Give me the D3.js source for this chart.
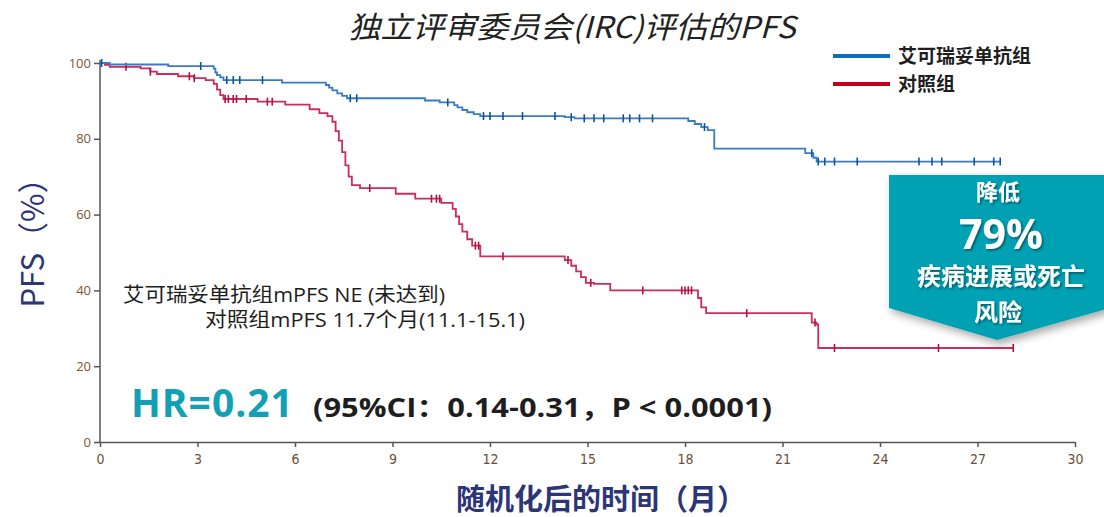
<!DOCTYPE html>
<html><head><meta charset="utf-8">
<script src="https://cdn.jsdelivr.net/npm/d3@7"></script>
<style>
html,body{margin:0;padding:0;background:#fff;}
svg{display:block;}
</style></head>
<body>
<svg id="chart" width="1104" height="517"></svg>
<script>
// ---------- data ----------
const xTicks = [0,3,6,9,12,15,18,21,24,27,30];
const yTicks = [0,20,40,60,80,100];
const seriesNames = ["艾可瑞妥单抗组","对照组"];

const blueTimes = [0,0.3,2.1,3.5,3.55,3.6,3.7,3.8,5.6,6.95,7.05,7.15,7.3,7.45,7.6,10.0,10.45,10.9,11.0,11.15,11.3,11.5,11.7,14.3,14.6,18.1,18.3,18.5,18.7,18.9,21.7,21.95,22.05,27.7];
const blueSurv  = [100,99.6,99.2,98.5,97.5,96.8,96.2,95.5,94.8,94.2,93.5,92.8,92.0,91.3,90.7,90.1,89.6,88.9,88.3,87.6,87.0,86.5,86.0,85.7,85.4,84.7,83.9,83.1,82.3,77.4,76.2,75.0,74.0,74.0];
const blueCensor = [0.05,3.1,3.9,4.1,4.3,5.0,7.7,7.9,10.7,11.8,12.0,12.4,13.0,14.0,14.5,14.9,15.2,15.5,16.1,16.3,16.6,17.0,18.6,21.9,22.1,22.3,22.6,23.3,25.2,25.6,25.9,26.9,27.5,27.7];

const redTimes = [0,0.15,0.3,1.25,1.55,1.75,2.4,2.9,3.25,3.5,3.6,3.7,3.8,4.85,5.7,6.45,6.75,7.0,7.15,7.25,7.35,7.45,7.55,7.65,7.75,8.0,9.1,9.7,10.5,10.85,10.95,11.05,11.15,11.3,11.45,11.7,14.3,14.5,14.65,14.8,14.95,15.2,15.7,18.4,18.5,18.65,21.9,22.05,22.1,28.1];
const redSurv  = [100,99.5,99.0,98.6,97.7,97.1,96.5,96.0,95.5,94.5,93.0,91.5,90.5,89.8,89.0,87.8,86.8,86.0,84.5,82.0,79.5,76.5,73.0,70.0,67.8,67.0,65.5,64.2,63.1,61.5,59.5,57.5,55.5,53.5,51.8,49.0,48.0,46.5,45.0,43.5,42.0,41.7,40.0,38.0,35.5,34.0,31.5,31.0,24.8,24.8];
const redCensor = [0.8,1.55,2.75,2.9,3.85,3.95,4.1,4.2,4.5,5.15,5.3,8.3,10.2,10.35,10.45,11.55,11.65,12.4,14.4,15.1,16.7,17.9,18.0,18.1,18.2,19.9,22.0,22.6,25.8,28.1];

const noteLines = ["艾可瑞妥单抗组mPFS NE (未达到)","对照组mPFS 11.7个月(11.1-15.1)"];
const hrText = "HR=0.21";
const ciText = "(95%CI：0.14-0.31，P < 0.0001)";
const calloutLines = ["降低","79%","疾病进展或死亡","风险"];

// ---------- drawing ----------
const svg = d3.select("#chart");
const x = d3.scaleLinear().domain([0,30]).range([100,1075]);
const y = d3.scaleLinear().domain([0,100]).range([442,63]);

const defs = svg.append("defs");
const f = defs.append("filter").attr("id","shadow").attr("x","-20%").attr("y","-20%").attr("width","150%").attr("height","150%");
f.append("feDropShadow").attr("dx",3).attr("dy",4).attr("stdDeviation",4).attr("flood-color","#000").attr("flood-opacity",0.35);
const ft = defs.append("filter").attr("id","tshadow").attr("x","-20%").attr("y","-30%").attr("width","140%").attr("height","160%");
ft.append("feDropShadow").attr("dx",1.5).attr("dy",1.5).attr("stdDeviation",1.2).attr("flood-color","#000").attr("flood-opacity",0.45);

// title
svg.append("text").attr("x",572).attr("y",38).attr("text-anchor","middle")
  .attr("font-family","'Noto Sans CJK SC','Noto Sans',sans-serif").attr("font-size",30)
  .attr("font-style","italic").attr("fill","#222")
  .attr("textLength",447).attr("lengthAdjust","spacingAndGlyphs")
  .text("独立评审委员会(IRC)评估的PFS");

// axes
const axisColor = "#555";
const tickColor = "#6a5038";
const yAx = svg.append("g").attr("transform","translate(100,0)")
  .call(d3.axisLeft(y).tickValues(yTicks).tickSize(6).tickSizeOuter(0));
yAx.select(".domain").attr("stroke",axisColor).attr("stroke-width",1.5).attr("d","M0,60V442");
yAx.selectAll(".tick line").attr("stroke",axisColor).attr("stroke-width",1.5);
yAx.selectAll(".tick text").attr("font-family","'Open Sans',sans-serif").attr("font-size",13).attr("fill","#7a5530").attr("x",-9);

const xAx = svg.append("g").attr("transform","translate(0,442)")
  .call(d3.axisBottom(x).tickValues(xTicks).tickSize(5).tickSizeOuter(0));
xAx.select(".domain").attr("stroke",axisColor).attr("stroke-width",1.5);
xAx.selectAll(".tick line").attr("stroke",axisColor).attr("stroke-width",1.5);
xAx.selectAll(".tick text").attr("font-family","'Liberation Sans Narrow','DejaVu Sans Condensed',sans-serif").attr("font-size",14).attr("fill",tickColor).attr("dy","1.0em");

// axis labels
svg.append("text").attr("transform","translate(44,235) rotate(-90)").attr("text-anchor","middle")
  .attr("font-family","'Noto Sans CJK SC',sans-serif").attr("font-size",31).attr("fill","#2b3577")
  .text("PFS（%）");
svg.append("text").attr("x",601).attr("y",510).attr("text-anchor","middle")
  .attr("font-family","'Noto Sans CJK SC',sans-serif").attr("font-weight","bold").attr("font-size",29).attr("fill","#2b3577")
  .text("随机化后的时间（月）");

// KM curves
function stepVal(times, surv, t){
  let v = surv[0];
  for(let i=0;i<times.length;i++){ if(times[i] <= t) v = surv[i]; else break; }
  return v;
}
const line = d3.line().x(d=>x(d[0])).y(d=>y(d[1])).curve(d3.curveStepAfter);
const series = [
  {times:redTimes, surv:redSurv, cens:redCensor, color:"#cc2d5c", ccolor:"#b3103f"},
  {times:blueTimes, surv:blueSurv, cens:blueCensor, color:"#3a7bc2", ccolor:"#0b559f"}
];
series.forEach(s=>{
  const pts = s.times.map((t,i)=>[t,s.surv[i]]);
  svg.append("path").attr("d",line(pts)).attr("fill","none").attr("stroke",s.color).attr("stroke-width",1.8);
  svg.append("g").selectAll("line").data(s.cens).join("line")
    .attr("x1",d=>x(d)).attr("x2",d=>x(d))
    .attr("y1",d=>y(stepVal(s.times,s.surv,d))-4).attr("y2",d=>y(stepVal(s.times,s.surv,d))+4)
    .attr("stroke",s.ccolor).attr("stroke-width",1.6);
});

// legend
const legColors = ["#0a6fc2","#c0001c"];
seriesNames.forEach((n,i)=>{
  const ly = 56 + i*28;
  svg.append("line").attr("x1",833).attr("x2",890).attr("y1",ly).attr("y2",ly).attr("stroke",legColors[i]).attr("stroke-width",4);
  svg.append("text").attr("x",898).attr("y",ly+7).attr("font-family","'Noto Sans CJK SC',sans-serif")
    .attr("font-weight","bold").attr("font-size",19).attr("fill","#1e1e1e").text(n);
});

// notes
svg.append("text").attr("x",123).attr("y",302).attr("font-family","'Open Sans','Noto Sans CJK SC',sans-serif")
  .attr("font-size",20).attr("fill","#1e1e1e")
  .attr("textLength",322).attr("lengthAdjust","spacingAndGlyphs").text(noteLines[0]);
svg.append("text").attr("x",205).attr("y",327).attr("font-family","'Open Sans','Noto Sans CJK SC',sans-serif")
  .attr("font-size",20).attr("fill","#1e1e1e")
  .attr("textLength",320).attr("lengthAdjust","spacingAndGlyphs").text(noteLines[1]);

// HR
svg.append("text").attr("x",131).attr("y",417).attr("font-family","'Open Sans','Noto Sans',sans-serif")
  .attr("font-weight","bold").attr("font-size",39).attr("letter-spacing",1).attr("fill","#13a0b5").text(hrText);
svg.append("text").attr("x",313).attr("y",417).attr("font-family","'Open Sans','Noto Sans CJK SC',sans-serif")
  .attr("font-weight","bold").attr("font-size",26).attr("fill","#1e1e1e")
  .attr("textLength",459).attr("lengthAdjust","spacingAndGlyphs").text(ciText);

// callout
const cg = svg.append("g");
cg.append("path").attr("d","M889,175 L1110,175 L1110,308 L997,340 L889,308 Z")
  .attr("fill","#00a1b3").attr("filter","url(#shadow)");
const cText = cg.append("g").attr("fill","#fff").attr("font-family","'Noto Sans CJK SC',sans-serif")
  .attr("font-weight","bold").attr("text-anchor","middle").attr("filter","url(#tshadow)");
cText.append("text").attr("x",998).attr("y",200).attr("font-size",22).text(calloutLines[0]);
cText.append("text").attr("x",1001).attr("y",249).attr("font-family","'Open Sans',sans-serif").attr("font-size",41).text(calloutLines[1]);
cText.append("text").attr("x",1001).attr("y",285).attr("font-size",24).text(calloutLines[2]);
cText.append("text").attr("x",998).attr("y",321).attr("font-size",24).text(calloutLines[3]);
</script>
</body></html>
